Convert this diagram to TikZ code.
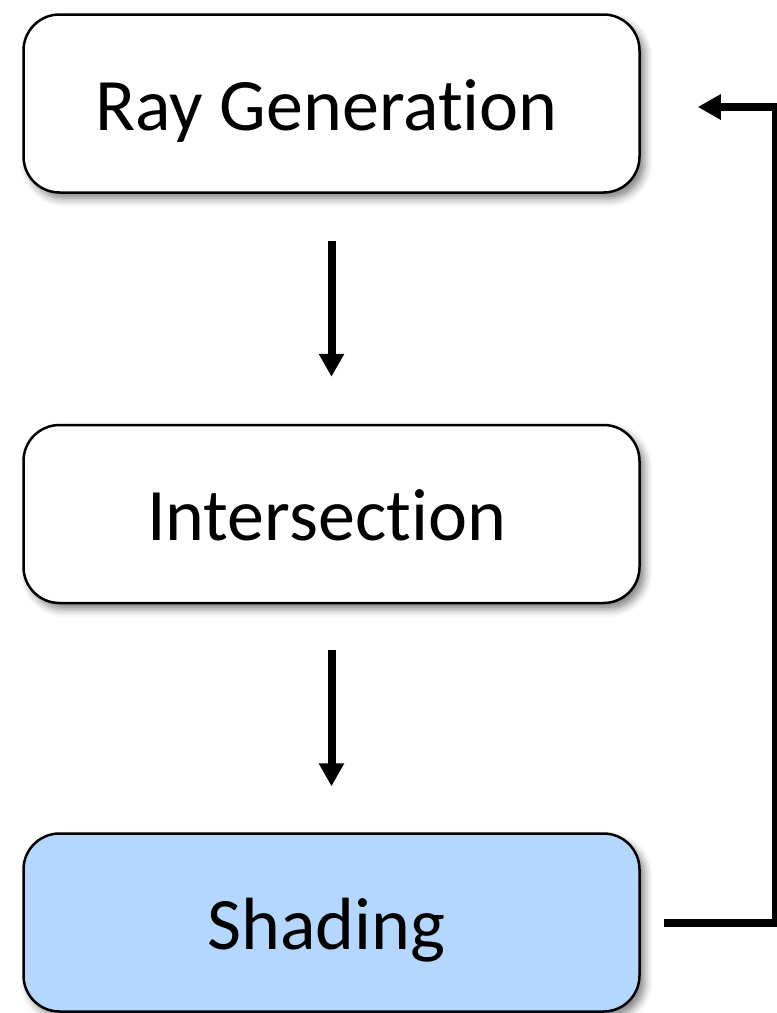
\documentclass[tikz,border=0pt]{standalone}
\usepackage{fontspec}
\setmainfont[Ligatures=NoCommon]{Carlito}
\usetikzlibrary{shadows.blur,arrows.meta}
\definecolor{shadefill}{RGB}{180,214,255}
\newcommand\stagelabel[1]{#1\kern10pt}
\begin{document}
\begin{tikzpicture}[x=1pt,y=-1pt,
  stage/.style={draw=black, line width=2.5pt, rounded corners=36pt,
    minimum width=616pt, minimum height=178pt, inner sep=0pt, fill=white,
    font=\fontsize{74}{82}\selectfont, text height=53pt, text depth=0pt,
    blur shadow={shadow xshift=5pt, shadow yshift=-6pt,
      shadow blur radius=8pt, shadow opacity=50}},
  flow/.style={line width=8pt, -{Triangle[length=23pt,width=24pt]}}]
\useasboundingbox (0,0) rectangle (777,1013);

% pipeline stages
\node[stage] (ray) at (331.5,103.5) {\stagelabel{Ray Generation}};
\node[stage] (isect) at (331.5,514) {\stagelabel{Intersection}};
\node[stage, fill=shadefill] (shade) at (331.5,922.5) {\stagelabel{Shading}};

% forward flow
\draw[flow] ([yshift=-47pt]ray.south) -- ([yshift=47pt]isect.north);
\draw[flow] ([yshift=-46pt]isect.south) -- ([yshift=46pt]shade.north);

% loop back from shading to ray generation
\coordinate (rail) at (776,500);
\draw[flow, line join=miter] ([xshift=23pt]shade.east) -| (rail) |- ([xshift=57pt,yshift=-3.5pt]ray.east);
\end{tikzpicture}
\end{document}
